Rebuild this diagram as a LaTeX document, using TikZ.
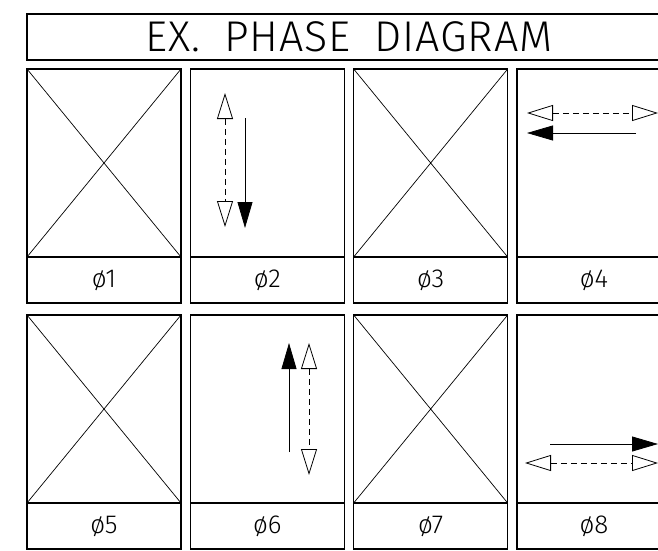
\documentclass[tikz,border=0pt]{standalone}
\usepackage{fontspec}
\setmainfont{Fira Sans Light}
\usetikzlibrary{arrows.meta}
\tikzset{
  pd diagram/.style={x=1pt, y=-1pt, line join=miter},
  pd frame/.style={draw=black, line width=1.1pt, minimum width=154pt,
    inner sep=0pt, outer sep=0pt},
  pd cell/.style={pd frame, minimum height=188pt, anchor=north},
  pd tag/.style={pd frame, minimum height=46pt, anchor=north,
    font=\fontsize{26}{26}\selectfont},
  pd title/.style={draw=black, line width=1.1pt, minimum width=644pt,
    minimum height=46pt, inner sep=0pt, outer sep=0pt, anchor=north west,
    font=\fontsize{43}{43}\selectfont\addfontfeature{LetterSpace=2}},
  pd cross/.style={draw=black, line width=0.7pt},
  pd veh/.style={-{Triangle[length=26pt,width=15pt]}, line width=0.8pt},
  pd ped/.style={{Triangle[open,length=26pt,width=16pt]}-{Triangle[open,length=26pt,width=16pt]},
    line width=0.8pt, dash pattern=on 6pt off 4pt}
}

\begin{document}
\begin{tikzpicture}[pd diagram]
\clip (0,0) rectangle (658,551);
\useasboundingbox (0,0) rectangle (658,551);
\node[pd title] (title) at (27,14) {EX.\hspace{24pt}PHASE\hspace{24pt}DIAGRAM};
\foreach \i in {1,...,8} {
  \pgfmathsetmacro\cx{104+163.33*mod(\i-1,4)}
  \pgfmathsetmacro\cy{69+246*int((\i-1)/4)}
  \node[pd cell] (ph\i) at (\cx,\cy) {};
  \node[pd tag] (tag\i) at (ph\i.south) {ø\i};
}
\foreach \i in {1,3,5,7}
  \draw[pd cross] (ph\i.north west) -- (ph\i.south east)
                  (ph\i.north east) -- (ph\i.south west);
% phase 2
\coordinate (p2a) at (225,93);
\coordinate (p2b) at (225,227);
\coordinate (p2c) at (245,118);
\coordinate (p2d) at (245,228);
\draw[pd ped] (p2a) -- (p2b);
\draw[pd veh] (p2c) -- (p2d);
% phase 4
\coordinate (p4a) at (527,113);
\coordinate (p4b) at (658,113);
\coordinate (p4c) at (636,133);
\coordinate (p4d) at (527,133);
\draw[pd ped] (p4a) -- (p4b);
\draw[pd veh] (p4c) -- (p4d);
% phase 6
\coordinate (p6a) at (289,452);
\coordinate (p6b) at (289,343);
\coordinate (p6c) at (309,343);
\coordinate (p6d) at (309,475);
\draw[pd veh] (p6a) -- (p6b);
\draw[pd ped] (p6c) -- (p6d);
% phase 8
\coordinate (p8a) at (550,444);
\coordinate (p8b) at (658,444);
\coordinate (p8c) at (525,463);
\coordinate (p8d) at (658,463);
\draw[pd veh] (p8a) -- (p8b);
\draw[pd ped] (p8c) -- (p8d);
\end{tikzpicture}
\end{document}
